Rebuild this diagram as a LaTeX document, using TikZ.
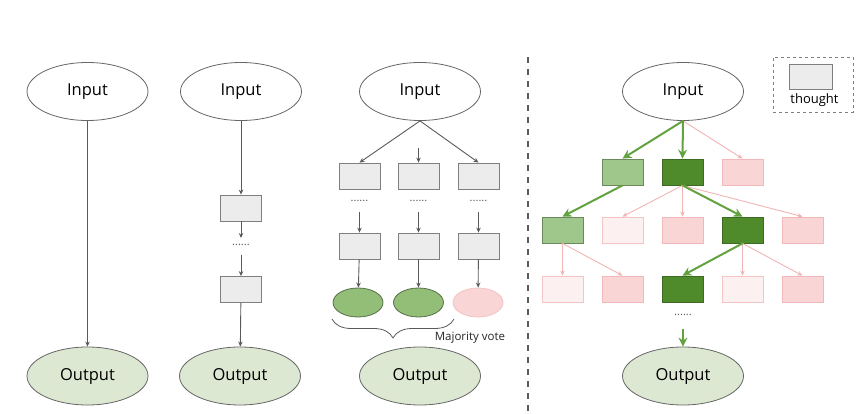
\documentclass[tikz,border=0pt]{standalone}
\usepackage{fontspec}
\setmainfont{Open Sans}
\usetikzlibrary{shapes.geometric,arrows.meta,decorations.pathreplacing}
\definecolor{grayfill}{HTML}{ECECEC}
\definecolor{graydraw}{HTML}{7F7F7F}
\definecolor{lgfill}{HTML}{A0C78B}
\definecolor{lgdraw}{HTML}{6B8A5B}
\definecolor{dgfill}{HTML}{4F8A2B}
\definecolor{dgdraw}{HTML}{3B6A20}
\definecolor{pkfill}{HTML}{F9D5D5}
\definecolor{pkdraw}{HTML}{F0B8B8}
\definecolor{vpfill}{HTML}{FDF0F0}
\definecolor{vpdraw}{HTML}{F2C4C4}
\definecolor{geofill}{HTML}{92BE77}
\definecolor{geodraw}{HTML}{56704A}
\definecolor{outfill}{HTML}{DDE8D3}
\definecolor{outdraw}{HTML}{666666}
\definecolor{garrow}{HTML}{62A23F}
\definecolor{parrow}{HTML}{F0B4B4}
\definecolor{linegray}{HTML}{5A5A5A}
\tikzset{
  io/.style={ellipse,draw=outdraw,line width=0.8pt,minimum width=121pt,minimum height=58pt,inner sep=0pt,font=\fontsize{16.5}{18}\selectfont},
  inp/.style={io,fill=white},
  outp/.style={io,fill=outfill},
  thbox/.style={rectangle,minimum width=41pt,minimum height=26pt,inner sep=0pt,line width=0.8pt},
  gbox/.style={thbox,fill=grayfill,draw=graydraw},
  lgbox/.style={thbox,fill=lgfill,draw=lgdraw},
  dgbox/.style={thbox,fill=dgfill,draw=dgdraw},
  pkbox/.style={thbox,fill=pkfill,draw=pkdraw},
  vpbox/.style={thbox,fill=vpfill,draw=vpdraw},
  sell/.style={ellipse,minimum width=50pt,minimum height=29pt,inner sep=0pt,line width=0.8pt},
  gell/.style={sell,fill=geofill,draw=geodraw},
  pell/.style={sell,fill=pkfill,draw=vpdraw},
  garr/.style={draw=linegray,line width=0.9pt,-{Stealth[length=5pt,width=4.5pt]}},
  grn/.style={draw=garrow,line width=2pt,-{Stealth[length=9pt,width=9pt]}},
  pnk/.style={draw=parrow,line width=0.9pt,-{Stealth[length=5pt,width=4.5pt]}},
  dots/.style={inner sep=0pt,font=\fontsize{11}{11}\selectfont,text=linegray},
}
\begin{document}
\begin{tikzpicture}[x=1pt,y=-1pt]
\useasboundingbox (0,0) rectangle (865,414);
% column 1
\node[inp] (i1) at (87.5,91.5) {Input};
\node[outp] (o1) at (87.5,376) {Output};
\draw[garr] (i1) -- (o1);
% column 2
\node[inp] (i2) at (241,91.5) {Input};
\node[gbox] (b21) at (241,208) {};
\node[dots] (d2) at (241,245) {......};
\node[gbox] (b22) at (241,289.5) {};
\node[outp] (o2) at (240,376) {Output};
\draw[garr] (i2) -- (b21);
\draw[garr] (b21) -- (241,238);
\coordinate (c2) at (241,255);
\draw[garr] (c2) -- (b22);
\draw[garr] (b22) -- (o2);
% column 3
\node[inp] (i3) at (420,91.5) {Input};
\foreach \n/\x in {a/359.5,b/418.5,c/478.5}{
  \node[gbox] (r1\n) at (\x,176) {};
  \node[dots] (d3\n) at (\x,201) {......};
  \node[gbox] (r2\n) at (\x,246) {};
  \coordinate (t3\n) at (\x,212);
  \draw[garr] (t3\n) -- (r2\n);
}
\coordinate (t3m) at (418.5,148);
\draw[garr] (i3.south) -- (r1a.north);
\draw[garr] (i3.south) -- (r1c.north);
\draw[garr] (t3m) -- (r1b);
\node[gell] (e1) at (358,302.5) {};
\node[gell] (e2) at (418.5,302.5) {};
\node[pell] (e3) at (478,302.5) {};
\draw[garr] (r2a) -- (e1);
\draw[garr] (r2b) -- (e2);
\draw[garr] (r2c) -- (e3);
\coordinate (bl) at (332,319);
\coordinate (br) at (454,319);
\draw[draw=linegray,line width=0.8pt,decorate,decoration={brace,mirror,amplitude=19pt}] (bl) -- (br);
\node[font=\fontsize{11.5}{12}\selectfont,text=black!85] (mv) at (470,338) {Majority vote};
\node[outp] (o3) at (420,376) {Output};
% divider
\coordinate (dv1) at (528,57);
\coordinate (dv2) at (528,414);
\draw[draw=linegray,line width=2pt,dash pattern=on 6pt off 6pt] (dv1) -- (dv2);
% legend
\node[draw=graydraw,dashed,line width=0.8pt,minimum width=80pt,minimum height=55pt,inner sep=0pt] (lg) at (813,84.5) {};
\node[gbox,minimum width=43pt,minimum height=25pt] (lgb) at (810.5,76.5) {};
\node[font=\fontsize{13}{14}\selectfont] (lgt) at (814.5,100) {thought};
% column 4 : tree of thoughts
\node[inp] (i4) at (683,91.5) {Input};
\node[lgbox] (a1) at (622.5,172) {};
\node[dgbox] (a2) at (682.5,172) {};
\node[pkbox] (a3) at (742.5,172) {};
\node[lgbox] (b1) at (562.5,230) {};
\node[vpbox] (b2) at (622.5,230) {};
\node[pkbox] (b3) at (682.5,230) {};
\node[dgbox] (b4) at (742.5,230) {};
\node[pkbox] (b5) at (802.5,230) {};
\node[vpbox] (c1) at (562.5,289) {};
\node[pkbox] (c2b) at (622.5,289) {};
\node[dgbox] (c3) at (682.5,289) {};
\node[vpbox] (c4) at (742.5,289) {};
\node[pkbox] (c5) at (802.5,289) {};
\node[dots] (d4) at (683,315) {......};
\node[outp] (o4) at (683,376) {Output};
% edges
\draw[pnk] (i4.south) -- (a3.north);
\draw[grn] (i4.south) -- (a1.north);
\draw[grn] (i4.south) -- (a2.north);
\draw[grn] (a1.south) -- (b1.north);
\draw[pnk] (a2.south) -- (b2.north);
\draw[pnk] (a2.south) -- (b3.north);
\draw[pnk] (a2.south) -- (b5.north);
\draw[grn] (a2.south) -- (b4.north);
\draw[pnk] (b1.south) -- (c1.north);
\draw[pnk] (b1.south) -- (c2b.north);
\draw[pnk] (b4.south) -- (c4.north);
\draw[pnk] (b4.south) -- (c5.north);
\draw[grn] (b4.south) -- (c3.north);
\coordinate (t4) at (683,329);
\draw[grn] (t4) -- (o4);
\end{tikzpicture}
\end{document}
